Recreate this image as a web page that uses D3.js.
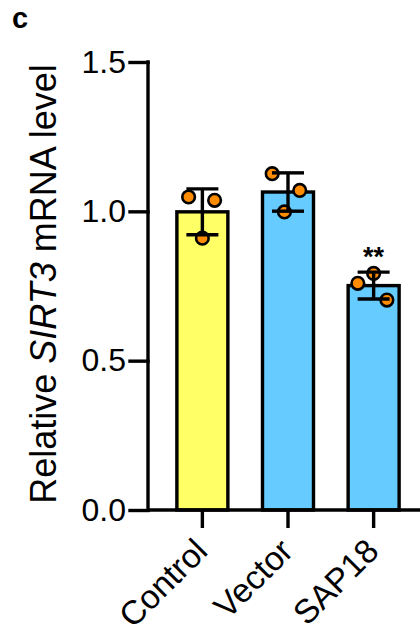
<!DOCTYPE html>
<html>
<head>
<meta charset="utf-8">
<script src="https://cdn.jsdelivr.net/npm/d3@7"></script>
<style>
  html, body { margin: 0; padding: 0; background: #fff; }
  svg { display: block; font-family: Arial, "Liberation Sans", sans-serif; }
</style>
</head>
<body>
<svg id="chart" width="420" height="636"></svg>
<script>
// Relative SIRT3 mRNA expression per group (three replicates each)
const groups = ["Control", "Vector", "SAP18"];
const replicates = [
  [1.048, 1.037, 0.910],
  [1.126, 1.070, 0.998],
  [0.759, 0.792, 0.703]
];
const barColors = ["#FFFF66", "#66CCFF", "#66CCFF"];
const significance = ["", "", "**"];
const yTicks = [0.0, 0.5, 1.0, 1.5];

// horizontal placement of the replicate dots within a bar (fraction of bar width)
const dotOffsets = [
  [-0.27, 0.24, 0.0],
  [-0.31, 0.23, -0.07],
  [-0.31, 0.0, 0.26]
];

const stats = groups.map((g, i) => ({
  group: g,
  values: replicates[i],
  mean: d3.mean(replicates[i]),
  sd: d3.deviation(replicates[i]),
  color: barColors[i],
  sig: significance[i],
  offsets: dotOffsets[i]
}));

const svg = d3.select("#chart");
const axisLeft = 148, axisBottom = 510;

const y = d3.scaleLinear().domain([0, 1.5]).range([axisBottom, 62]);
const x = d3.scaleBand().domain(groups).range([axisLeft, 428])
  .paddingInner(0.39).paddingOuter(0.33);
const barW = 51;

const ink = "#000";
const lw = 3.4;

// bars
svg.append("g").selectAll("rect").data(stats).join("rect")
  .attr("x", d => x(d.group) + x.bandwidth() / 2 - barW / 2)
  .attr("width", barW)
  .attr("y", d => y(d.mean))
  .attr("height", d => y(0) - y(d.mean))
  .attr("fill", d => d.color)
  .attr("stroke", ink)
  .attr("stroke-width", lw);

// replicate dots
const dotG = svg.append("g");
stats.forEach(d => {
  const cx = x(d.group) + x.bandwidth() / 2;
  dotG.selectAll(null).data(d.values).join("circle")
    .attr("cx", (v, j) => cx + d.offsets[j] * barW)
    .attr("cy", v => y(v))
    .attr("r", 6.3)
    .attr("fill", "#FF8C00")
    .attr("stroke", ink)
    .attr("stroke-width", 2.6);
});

// error bars (mean ± SD)
const capHalf = 16;
const errG = svg.append("g").attr("stroke", ink).attr("stroke-width", lw).attr("fill", "none");
stats.forEach(d => {
  const cx = x(d.group) + x.bandwidth() / 2;
  const hi = y(d.mean + d.sd), lo = y(d.mean - d.sd);
  errG.append("line").attr("x1", cx).attr("x2", cx).attr("y1", hi).attr("y2", lo);
  errG.append("line").attr("x1", cx - capHalf).attr("x2", cx + capHalf).attr("y1", hi).attr("y2", hi);
  errG.append("line").attr("x1", cx - capHalf).attr("x2", cx + capHalf).attr("y1", lo).attr("y2", lo);
});

// significance marks
svg.append("g").selectAll("text").data(stats.filter(d => d.sig)).join("text")
  .attr("x", d => x(d.group) + x.bandwidth() / 2)
  .attr("y", d => y(d.mean + d.sd) - 6)
  .attr("text-anchor", "middle")
  .attr("font-size", 27)
  .attr("font-weight", "bold")
  .text(d => d.sig);

// y axis
const yAxis = d3.axisLeft(y).tickValues(yTicks).tickFormat(d3.format(".1f"))
  .tickSize(18).tickPadding(4);
const gy = svg.append("g").attr("transform", `translate(${axisLeft},0)`).call(yAxis);
gy.select(".domain").attr("d", `M0,${y(1.5)}V${axisBottom}`);
gy.selectAll("path, line").attr("stroke", ink).attr("stroke-width", lw).attr("stroke-linecap", "square");
gy.selectAll("text").attr("font-size", 32).attr("fill", ink).attr("font-family", "Arial, 'Liberation Sans', sans-serif");

// x axis
const xAxis = d3.axisBottom(x).tickSize(18).tickFormat("");
const gx = svg.append("g").attr("transform", `translate(0,${axisBottom})`).call(xAxis);
gx.select(".domain").attr("d", `M${axisLeft},0H428`);
gx.selectAll("path, line").attr("stroke", ink).attr("stroke-width", lw);

svg.append("g").selectAll("text").data(groups).join("text")
  .attr("transform", d => `translate(${x(d) + x.bandwidth() / 2 + 7},553) rotate(-45)`)
  .attr("text-anchor", "end")
  .attr("font-size", 33.5)
  .attr("fill", ink)
  .text(d => d);

// y axis title
const title = svg.append("text")
  .attr("transform", `translate(56,284) rotate(-90)`)
  .attr("text-anchor", "middle")
  .attr("font-size", 36)
  .attr("fill", ink);
title.append("tspan").text("Relative ");
title.append("tspan").attr("font-style", "italic").text("SIRT3");
title.append("tspan").text(" mRNA level");

// panel letter
svg.append("text").attr("x", 12).attr("y", 28)
  .attr("font-size", 29).attr("font-weight", "bold").attr("fill", ink).text("c");
</script>
</body>
</html>
